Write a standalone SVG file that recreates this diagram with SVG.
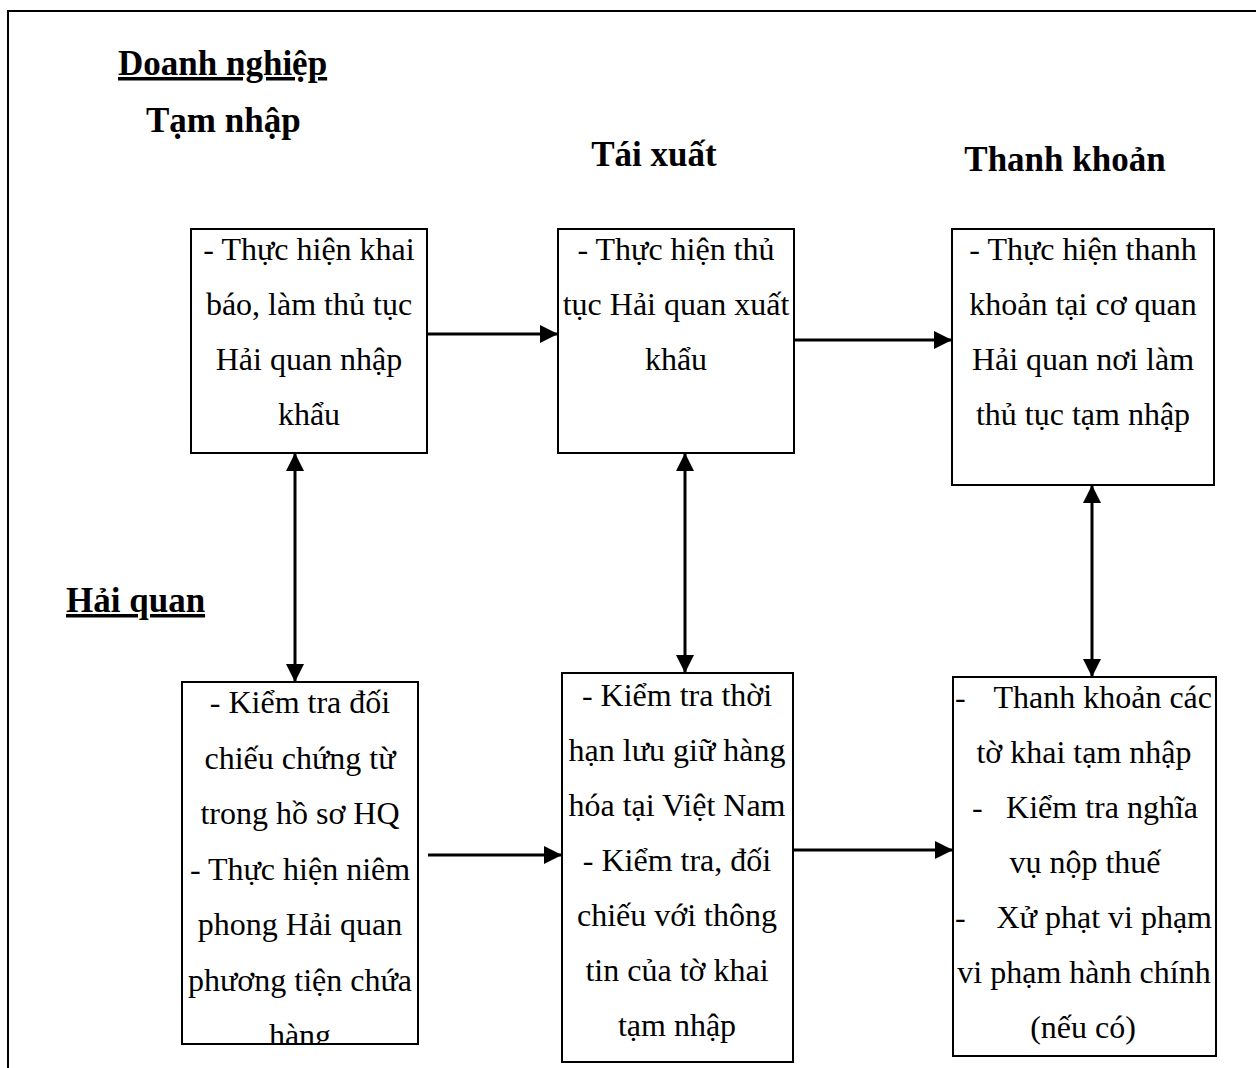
<svg xmlns="http://www.w3.org/2000/svg" width="1256" height="1068" viewBox="0 0 1256 1068">
<style>
.t{font-family:"Liberation Serif","Times New Roman",serif;font-size:32px;fill:#000;text-anchor:middle}
.s{text-anchor:start}
.e{text-anchor:end}
.h{font-family:"Liberation Serif","Times New Roman",serif;font-size:35px;font-weight:bold;fill:#000}
.u{text-decoration:underline;text-decoration-thickness:4px;text-underline-offset:3px}
.box{fill:#fff;stroke:#000;stroke-width:2}
.c{stroke:#000;stroke-width:3;fill:none}
</style>
<defs>
<marker id="ah" viewBox="0 0 18 18" refX="18" refY="9" markerWidth="18" markerHeight="18" markerUnits="userSpaceOnUse" orient="auto-start-reverse"><path d="M0,0 L18,9 L0,18 z" fill="#000"/></marker>
<clipPath id="clip4"><rect x="182" y="682" width="236" height="362"/></clipPath>
</defs>
<rect width="1256" height="1068" fill="#fff"/>
<path d="M8,1068 V11 H1256" fill="none" stroke="#000" stroke-width="2"/>
<g id="labels">
<text class="h u" x="118" y="75">Doanh nghiệp</text>
<text class="h" x="146" y="132">Tạm nhập</text>
<text class="h" x="654" y="166" text-anchor="middle">Tái xuất</text>
<text class="h" x="1065" y="171" text-anchor="middle">Thanh khoản</text>
<text class="h u" x="66" y="612">Hải quan</text>
</g>
<g id="connectors">
<line class="c" x1="427" y1="334" x2="558" y2="334" marker-end="url(#ah)"/>
<line class="c" x1="794" y1="340" x2="952" y2="340" marker-end="url(#ah)"/>
<line class="c" x1="428" y1="855" x2="562" y2="855" marker-end="url(#ah)"/>
<line class="c" x1="793" y1="850" x2="953" y2="850" marker-end="url(#ah)"/>
<line class="c" x1="295" y1="453" x2="295" y2="682" marker-start="url(#ah)" marker-end="url(#ah)"/>
<line class="c" x1="685" y1="453" x2="685" y2="673" marker-start="url(#ah)" marker-end="url(#ah)"/>
<line class="c" x1="1092" y1="485" x2="1092" y2="677" marker-start="url(#ah)" marker-end="url(#ah)"/>
</g>
<g id="n1">
<rect class="box" x="191" y="229" width="236" height="224"/>
<text class="t" x="309" y="260">- Thực hiện khai</text>
<text class="t" x="309" y="315">báo, làm thủ tục</text>
<text class="t" x="309" y="370">Hải quan nhập</text>
<text class="t" x="309" y="425">khẩu</text>
</g>
<g id="n2">
<rect class="box" x="558" y="229" width="236" height="224"/>
<text class="t" x="676" y="260">- Thực hiện thủ</text>
<text class="t" x="676" y="315">tục Hải quan xuất</text>
<text class="t" x="676" y="370">khẩu</text>
</g>
<g id="n3">
<rect class="box" x="952" y="229" width="262" height="256"/>
<text class="t" x="1083" y="260">- Thực hiện thanh</text>
<text class="t" x="1083" y="315">khoản tại cơ quan</text>
<text class="t" x="1083" y="370">Hải quan nơi làm</text>
<text class="t" x="1083" y="425">thủ tục tạm nhập</text>
</g>
<g id="n4">
<rect class="box" x="182" y="682" width="236" height="362"/>
<g clip-path="url(#clip4)">
<text class="t" x="300" y="713">- Kiểm tra đối</text>
<text class="t" x="300" y="769">chiếu chứng từ</text>
<text class="t" x="300" y="824">trong hồ sơ HQ</text>
<text class="t" x="300" y="880">- Thực hiện niêm</text>
<text class="t" x="300" y="935">phong Hải quan</text>
<text class="t" x="300" y="991">phương tiện chứa</text>
<text class="t" x="300" y="1046">hàng</text>
</g>
</g>
<g id="n5">
<rect class="box" x="562" y="673" width="231" height="389"/>
<text class="t" x="677" y="706">- Kiểm tra thời</text>
<text class="t" x="677" y="761">hạn lưu giữ hàng</text>
<text class="t" x="677" y="816">hóa tại Việt Nam</text>
<text class="t" x="677" y="871">- Kiểm tra, đối</text>
<text class="t" x="677" y="926">chiếu với thông</text>
<text class="t" x="677" y="981">tin của tờ khai</text>
<text class="t" x="677" y="1036">tạm nhập</text>
</g>
<g id="n6">
<rect class="box" x="953" y="677" width="263" height="379"/>
<text class="t s" x="955" y="708">-</text>
<text class="t e" x="1212" y="708">Thanh khoản các</text>
<text class="t" x="1084" y="763">tờ khai tạm nhập</text>
<text class="t s" x="972" y="818">-</text>
<text class="t e" x="1198" y="818">Kiểm tra nghĩa</text>
<text class="t" x="1085" y="873">vụ nộp thuế</text>
<text class="t s" x="955" y="928">-</text>
<text class="t e" x="1212" y="928">Xử phạt vi phạm</text>
<text class="t" x="1084" y="983">vi phạm hành chính</text>
<text class="t" x="1083" y="1038">(nếu có)</text>
</g>
</svg>
